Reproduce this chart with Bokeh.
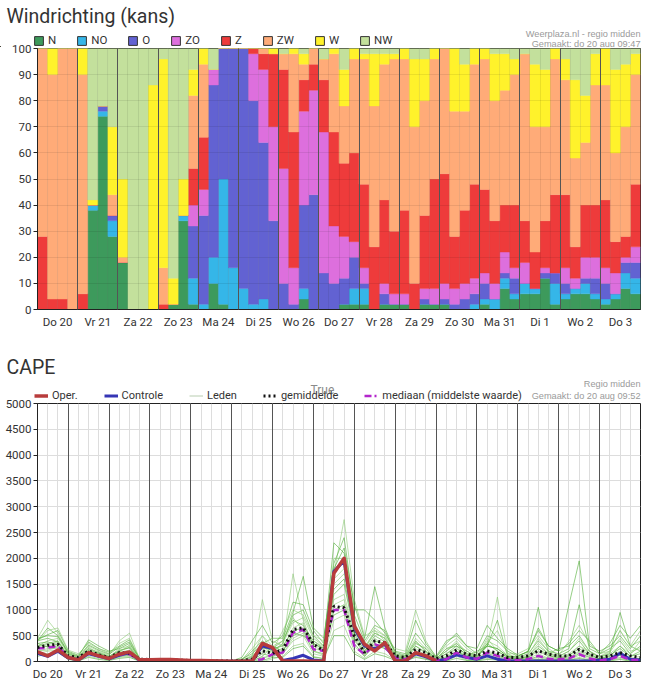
from bokeh.plotting import figure
from bokeh.models import (ColumnDataSource, Range1d, FixedTicker, Grid, Label,
                          Legend, LegendItem)
from bokeh.layouts import column
from bokeh.embed import file_html
from bokeh.resources import INLINE

# ---------------- data ----------------
days = ["Do 20", "Vr 21", "Za 22", "Zo 23", "Ma 24", "Di 25", "Wo 26", "Do 27",
        "Vr 28", "Za 29", "Zo 30", "Ma 31", "Di 1", "Wo 2", "Do 3"]
dirs = ["N", "NO", "O", "ZO", "Z", "ZW", "W", "NW"]
dir_colors = ["#3d9a5c", "#35b6e8", "#6262d2", "#dd6fdd", "#ee3b3b", "#ffab78", "#fff22b", "#c3e09c"]

# 6-hourly probabilities (%) starting Do 20 00:00
N = [0, 0, 0, 0, 0, 38, 74, 28, 18, 0, 0, 0, 0, 2, 34, 2, 0, 10, 2, 0,
     0, 0, 0, 0, 0, 0, 4, 0, 0, 0, 2, 2, 2, 0, 2, 2, 2, 0, 2, 2,
     2, 0, 0, 0, 2, 0, 8, 4, 6, 6, 12, 2, 4, 6, 6, 4, 2, 4, 8, 6]
NO = [0, 0, 0, 0, 0, 2, 2, 6, 0, 0, 0, 0, 0, 0, 2, 10, 2, 10, 48, 16,
      8, 2, 4, 0, 0, 0, 4, 0, 0, 0, 0, 6, 6, 0, 0, 0, 0, 0, 0, 0,
      0, 0, 0, 2, 2, 4, 4, 2, 4, 2, 0, 8, 2, 2, 4, 2, 2, 2, 6, 6]
O = [0, 0, 0, 0, 0, 0, 2, 2, 0, 0, 0, 0, 0, 0, 0, 20, 34, 66, 50, 84,
     92, 78, 60, 34, 10, 2, 32, 44, 14, 10, 10, 12, 2, 0, 4, 0, 0, 0, 2, 0,
     2, 2, 4, 4, 6, 0, 2, 6, 0, 0, 2, 4, 4, 0, 2, 6, 6, 0, 4, 6]
ZO = [0, 0, 0, 0, 0, 0, 0, 0, 0, 0, 0, 0, 0, 0, 0, 8, 10, 6, 0, 0,
      0, 18, 28, 36, 44, 14, 36, 40, 54, 22, 16, 6, 6, 0, 4, 4, 4, 0, 4, 6,
      6, 6, 6, 6, 4, 6, 8, 4, 8, 0, 2, 0, 6, 4, 8, 8, 6, 8, 2, 6]
Z = [28, 4, 4, 0, 6, 0, 0, 0, 0, 0, 0, 0, 2, 0, 0, 14, 20, 0, 0, 0,
     0, 2, 6, 28, 38, 52, 12, 10, 20, 36, 28, 34, 32, 24, 32, 24, 32, 10, 28, 42,
     42, 20, 28, 36, 32, 24, 18, 24, 16, 14, 18, 30, 28, 12, 20, 20, 26, 12, 8, 24]
ZW = [72, 86, 96, 100, 84, 0, 0, 8, 2, 0, 0, 0, 14, 0, 0, 28, 28, 0, 0, 0,
      0, 0, 2, 0, 6, 30, 6, 6, 8, 30, 22, 36, 48, 54, 52, 66, 58, 60, 44, 46,
      48, 48, 38, 46, 50, 46, 44, 50, 64, 48, 36, 52, 44, 34, 24, 46, 44, 34, 42, 42]
W = [0, 10, 0, 0, 10, 2, 0, 26, 30, 0, 0, 86, 80, 10, 14, 10, 6, 0, 0, 0,
     0, 0, 0, 2, 0, 2, 4, 0, 0, 2, 14, 4, 2, 20, 4, 2, 4, 26, 16, 4,
     0, 24, 18, 6, 4, 18, 14, 6, 0, 24, 22, 4, 8, 30, 18, 12, 14, 32, 24, 8]
NW = [0, 0, 0, 0, 0, 58, 22, 30, 50, 100, 100, 14, 4, 88, 50, 8, 0, 8, 0, 0,
      0, 0, 0, 0, 2, 0, 2, 0, 4, 0, 8, 0, 2, 2, 2, 2, 0, 4, 4, 0,
      0, 0, 6, 0, 0, 2, 2, 4, 2, 6, 8, 0, 4, 12, 18, 2, 0, 8, 6, 2]
bar_hours = [3 + 6 * i for i in range(60)]

# CAPE, 6-hourly from Do 20 06:00
cape_hours = [6 + 6 * j for j in range(60)]
oper = [186, 109, 224, 77, 32, 173, 109, 58, 141, 186, 32,
        32, 40, 40, 30, 20, 20, 15, 10, 5, 5, 5, 350,
        270, 13, 10, 10, 5, 5, 1710, 2000,
        686, 333, 205, 365, 13, 10, 173, 109, 13]
controle = [160, 100, 200, 70, 30, 150, 100, 50, 120, 170, 25,
            25, 30, 30, 20, 15, 15, 10, 5, 5, 5, 5, 300,
            250, 20, 60, 120, 30, 10, 1750, 1950,
            650, 300, 250, 330, 20, 10, 150, 90, 10,
            45, 128, 77, 45, 109, 45, 10, 10, 10, 10, 10,
            10, 10, 10, 10, 30, 45, 160, 45, 30]
gemiddelde = [270, 314, 333, 109, 77, 205, 128, 77, 173, 160, 45,
              40, 35, 30, 25, 20, 20, 15, 10, 10, 15, 45, 205,
              160, 224, 620, 654, 333, 205, 1070, 1040,
              494, 173, 400, 365, 109, 77, 237, 173, 58,
              109, 224, 141, 109, 205, 160, 77, 77, 109, 205, 141,
              109, 109, 237, 141, 77, 109, 173, 109, 77]
mediaan = [250, 270, 300, 80, 50, 170, 100, 60, 140, 140, 20,
           15, 10, 10, 10, 10, 5, 5, 5, 5, 5, 20, 45,
           141, 173, 560, 620, 237, 205, 1000, 1000,
           300, 141, 333, 270, 77, 45, 173, 109, 30,
           45, 173, 77, 50, 173, 109, 45, 30, 45, 109, 50,
           45, 60, 141, 60, 20, 45, 109, 30, 30]

m01 = [420, 520, 600, 200, 120, 380, 250, 180, 300, 420, 60, 40, 30, 20, 10, 10, 5, 0, 0, 0, 20, 100, 300,
       200, 350, 900, 1000, 500, 300, 2300, 2100, 900, 400, 700, 600, 150, 100, 400, 200, 60, 200, 350, 150,
       100, 300, 250, 100, 50, 100, 300, 150, 100, 200, 400, 150, 50, 100, 300, 100, 200]
m02 = [450, 800, 550, 150, 60, 300, 200, 120, 400, 550, 40, 60, 50, 30, 20, 10, 10, 5, 0, 0, 0, 50, 1200,
       400, 300, 1700, 800, 300, 200, 1700, 2750, 1200, 500, 600, 500, 100, 50, 300, 150, 40, 150, 250, 100,
       80, 300, 1250, 150, 60, 80, 200, 100, 80, 100, 300, 200, 100, 200, 600, 300, 400]
m03 = [300, 350, 400, 100, 40, 200, 100, 60, 150, 200, 20, 10, 10, 10, 5, 5, 5, 0, 0, 0, 0, 20, 150,
       100, 200, 500, 600, 200, 150, 1000, 1100, 400, 200, 400, 350, 80, 40, 200, 100, 30, 60, 200, 80,
       40, 150, 100, 50, 30, 40, 100, 50, 40, 50, 150, 80, 20, 40, 120, 40, 60]
m04 = [200, 250, 250, 60, 30, 150, 80, 40, 120, 150, 10, 5, 5, 5, 0, 0, 0, 0, 0, 0, 0, 0, 50,
       150, 150, 400, 500, 150, 100, 800, 900, 300, 100, 300, 250, 50, 30, 150, 80, 20, 40, 150, 60,
       30, 100, 80, 30, 20, 30, 80, 30, 30, 40, 120, 50, 10, 30, 80, 20, 30]
m05 = [400, 650, 500, 180, 100, 420, 300, 200, 250, 350, 50, 30, 40, 30, 20, 20, 15, 10, 5, 10, 80, 400, 700,
       350, 500, 1150, 1100, 600, 350, 1900, 2400, 1000, 1000, 800, 550, 200, 150, 800, 350, 100, 400, 500, 300,
       150, 500, 400, 200, 100, 200, 600, 300, 200, 1100, 1950, 300, 200, 300, 500, 250, 500]
m06 = [150, 200, 220, 50, 20, 100, 60, 30, 80, 100, 5, 0, 5, 0, 0, 0, 0, 0, 0, 0, 0, 0, 0,
       50, 100, 300, 350, 100, 50, 600, 700, 200, 60, 200, 150, 30, 20, 100, 50, 10, 20, 100, 30,
       20, 60, 50, 20, 10, 20, 50, 20, 20, 30, 80, 30, 10, 20, 60, 10, 20]
m07 = [400, 450, 380, 120, 70, 250, 180, 100, 200, 280, 30, 20, 20, 15, 10, 10, 5, 5, 0, 0, 30, 200, 400,
       250, 400, 800, 700, 400, 250, 1400, 1600, 600, 250, 550, 450, 120, 80, 350, 250, 50, 250, 300, 200,
       100, 300, 800, 100, 80, 150, 400, 200, 150, 250, 1100, 250, 150, 250, 400, 150, 300]
m08 = [250, 300, 350, 90, 50, 180, 120, 80, 180, 220, 20, 10, 15, 10, 5, 5, 5, 0, 0, 0, 0, 30, 200,
       200, 250, 650, 750, 250, 200, 1200, 1300, 500, 150, 450, 300, 80, 60, 250, 120, 30, 100, 250, 150,
       60, 200, 150, 60, 40, 60, 250, 80, 50, 80, 200, 100, 30, 80, 200, 60, 100]
m09 = [350, 280, 300, 70, 40, 160, 100, 50, 100, 120, 15, 5, 5, 5, 5, 5, 0, 0, 0, 0, 0, 10, 100,
       300, 200, 550, 500, 350, 250, 900, 1000, 350, 100, 350, 250, 60, 40, 150, 100, 20, 80, 200, 100,
       200, 300, 250, 100, 100, 200, 1050, 150, 250, 300, 500, 200, 80, 150, 950, 300, 200]
m10 = [380, 600, 650, 220, 150, 350, 250, 150, 350, 450, 40, 30, 30, 20, 10, 10, 10, 5, 5, 5, 40, 250, 500,
       200, 600, 1000, 900, 500, 400, 2000, 2000, 700, 350, 650, 500, 250, 200, 1000, 400, 80, 300, 450, 250,
       120, 350, 600, 150, 150, 250, 500, 250, 120, 400, 700, 350, 150, 200, 600, 300, 600]
m11 = [100, 150, 180, 40, 10, 80, 40, 20, 60, 80, 5, 0, 0, 0, 0, 0, 0, 0, 0, 0, 0, 0, 20,
       80, 80, 250, 300, 80, 60, 500, 500, 150, 40, 150, 100, 20, 10, 80, 40, 5, 10, 60, 20,
       10, 40, 30, 10, 5, 10, 40, 10, 10, 20, 60, 20, 5, 10, 40, 5, 10]
m12 = [300, 400, 450, 140, 80, 280, 150, 90, 250, 300, 30, 20, 20, 20, 10, 5, 5, 5, 0, 0, 10, 80, 300,
       150, 350, 750, 850, 450, 300, 1600, 1800, 800, 250, 600, 400, 150, 100, 450, 250, 60, 200, 400, 150,
       80, 450, 200, 80, 60, 100, 350, 150, 80, 150, 300, 150, 100, 150, 300, 150, 400]
m13 = [450, 500, 480, 160, 90, 320, 220, 140, 280, 380, 50, 30, 25, 20, 15, 15, 10, 5, 5, 5, 50, 150, 350,
       450, 450, 950, 1650, 650, 450, 1800, 2200, 1100, 450, 1450, 650, 180, 120, 550, 300, 80, 350, 550, 300,
       250, 700, 450, 250, 120, 180, 650, 300, 200, 350, 600, 400, 150, 350, 700, 450, 700]
m14 = [200, 220, 280, 80, 50, 200, 110, 70, 160, 180, 15, 10, 10, 10, 5, 5, 5, 0, 0, 0, 0, 20, 80,
       100, 150, 450, 550, 200, 120, 1100, 1200, 450, 120, 400, 300, 70, 50, 200, 100, 30, 60, 150, 80,
       40, 180, 120, 50, 30, 50, 150, 60, 40, 60, 180, 80, 20, 60, 150, 30, 60]
m15 = [350, 380, 320, 100, 60, 220, 160, 90, 220, 260, 25, 15, 15, 10, 10, 5, 5, 5, 0, 0, 10, 60, 250,
       250, 300, 600, 650, 350, 220, 1300, 1500, 550, 200, 500, 380, 100, 70, 300, 180, 40, 150, 300, 120,
       70, 350, 200, 80, 50, 80, 250, 120, 60, 120, 250, 120, 50, 120, 250, 100, 150]
m16 = [280, 330, 380, 110, 70, 240, 140, 100, 180, 320, 30, 20, 20, 15, 10, 10, 5, 5, 0, 0, 20, 120, 500,
       300, 400, 850, 600, 400, 280, 1500, 1700, 650, 300, 550, 450, 120, 90, 380, 200, 50, 250, 350, 200,
       90, 400, 300, 120, 70, 120, 450, 180, 100, 200, 450, 200, 80, 180, 450, 200, 250]
leden = [m01, m02, m03, m04, m05, m06, m07, m08, m09, m10, m11, m12, m13, m14, m15, m16]

day_centers = [12 + 24 * d for d in range(15)]
day_bounds = [24 * d for d in range(1, 15)]
FONT = "Roboto"
TXT = "#333333"
GRAY = "#9a9a9a"
W_FIG = 652


def style_axes(p, yticks):
    p.xaxis.ticker = FixedTicker(ticks=day_centers)
    p.xaxis.major_label_overrides = {t: d for t, d in zip(day_centers, days)}
    p.xaxis.major_tick_line_color = None
    p.xaxis.major_tick_out = 0
    p.xaxis.major_tick_in = 0
    p.xaxis.minor_tick_line_color = None
    p.xaxis.minor_tick_out = 0
    p.xaxis.major_label_standoff = 5
    p.yaxis.ticker = FixedTicker(ticks=yticks)
    p.yaxis.major_tick_in = 0
    p.yaxis.major_tick_out = 4
    p.yaxis.major_tick_line_color = "#222222"
    p.yaxis.minor_tick_line_color = None
    p.yaxis.major_label_standoff = 2
    for ax in (p.xaxis, p.yaxis):
        ax.axis_line_color = "#222222"
        ax.major_label_text_font = FONT
        ax.major_label_text_font_size = "11.5px"
        ax.major_label_text_color = TXT
    p.xgrid.visible = False
    p.ygrid.visible = False
    p.outline_line_color = "#222222"
    p.outline_line_alpha = 1
    # transparent border so the header above stays visible where they overlap
    p.border_fill_alpha = 0


def header(height):
    h = figure(width=W_FIG, height=height, x_range=Range1d(0, W_FIG), y_range=Range1d(0, height),
               x_axis_location=None, y_axis_location=None, output_backend="svg",
               toolbar_location=None, title=None, min_border=0,
               min_border_left=0, min_border_right=0, min_border_top=0, min_border_bottom=0,
               frame_align=False)
    h.grid.visible = False
    h.outline_line_color = None
    return h


def add_label(p, text, x, y, size, color, align="left", font=FONT):
    p.add_layout(Label(x=x, y=y, text=text, text_font=font, text_font_size=size,
                       text_color=color, text_align=align, text_baseline="middle"))


def make_legend(items, loc, glyph_w, spacing, size):
    return Legend(items=items, location=loc, orientation="horizontal",
                  glyph_width=glyph_w, glyph_height=11, label_standoff=4, spacing=spacing,
                  label_width=0, label_height=11, padding=0, margin=0, border_line_alpha=0,
                  background_fill_alpha=0, label_text_font=FONT,
                  label_text_font_size=size, label_text_color=TXT)


# ---------------- Windrichting header ----------------
h1 = header(47)
items1 = []
for d, c in zip(dirs, dir_colors):
    # legend swatch only: its single bar lies outside the visible range
    r = h1.vbar(x=[-1000], top=[1], width=1, fill_color=c, line_color="#333333", line_width=1)
    items1.append(LegendItem(label=d, renderers=[r]))
h1.add_layout(make_legend(items1, (33, 0), 11, 20, "11.5px"))
add_label(h1, "Windrichting (kans)", 6, 31, "19.5px", TXT)
add_label(h1, "Weerplaza.nl - regio midden", 640, 14, "9.2px", GRAY, "right", "Liberation Sans")
add_label(h1, "Gemaakt: do 20 aug 09:47", 640, 4, "9.2px", GRAY, "right", "Liberation Sans")

# ---------------- Windrichting chart ----------------
p1 = figure(width=W_FIG, height=294, x_range=Range1d(0, 360), y_range=Range1d(0, 100),
            output_backend="svg", toolbar_location=None, title=None,
            min_border_left=37, min_border_right=12, min_border_top=9, min_border_bottom=24,
            margin=(-8, 0, 0, 0))
style_axes(p1, list(range(0, 101, 10)))

src1 = ColumnDataSource(dict(x=bar_hours, N=N, NO=NO, O=O, ZO=ZO, Z=Z, ZW=ZW, W=W, NW=NW))
p1.vbar_stack(dirs, x="x", width=6, color=dir_colors, line_width=0.4, source=src1)

p1.add_layout(Grid(dimension=1, ticker=FixedTicker(ticks=list(range(10, 100, 10))),
                   grid_line_color="#000000", grid_line_alpha=0.08, level="annotation"))
p1.add_layout(Grid(dimension=0, ticker=FixedTicker(ticks=[6 * i for i in range(1, 60)]),
                   grid_line_color="#000000", grid_line_alpha=0.08, level="annotation"))
p1.add_layout(Grid(dimension=0, ticker=FixedTicker(ticks=day_bounds),
                   grid_line_color="#555555", grid_line_alpha=1, level="annotation"))

# ---------------- CAPE header ----------------
h2 = header(69)
off = dict(x=[-1000, -999], y=[0, 0])
r_oper_l = h2.line(line_color="#b83c3c", line_width=3.5, **off)
r_ctrl_l = h2.line(line_color="#3535b5", line_width=3, **off)
r_led_l = h2.line(line_color="#b8cdb0", line_width=1, **off)
r_mean_l = h2.line(line_color="#111111", line_width=3, line_dash="2 3", **off)
r_med_l = h2.line(line_color="#b326cc", line_width=2.5, line_dash="7 3 2 3", **off)
h2.add_layout(make_legend([LegendItem(label="Oper.", renderers=[r_oper_l]),
                           LegendItem(label="Controle", renderers=[r_ctrl_l]),
                           LegendItem(label="Leden", renderers=[r_led_l]),
                           LegendItem(label="gemiddelde", renderers=[r_mean_l]),
                           LegendItem(label="mediaan (middelste waarde)", renderers=[r_med_l])],
                          (34, 0), 14, 26, "11px"))
add_label(h2, "CAPE", 6, 35, "19.5px", TXT)
add_label(h2, "True", 310, 13, "12px", "#8a8a8a")
add_label(h2, "Regio midden", 640, 19, "9.2px", GRAY, "right", "Liberation Sans")
add_label(h2, "Gemaakt: do 20 aug 09:52", 640, 7, "9.2px", GRAY, "right", "Liberation Sans")

# ---------------- CAPE chart ----------------
p2 = figure(width=W_FIG, height=289, x_range=Range1d(6, 360), y_range=Range1d(0, 5000),
            output_backend="svg", toolbar_location=None, title=None,
            min_border_left=37, min_border_right=12, min_border_top=9, min_border_bottom=22,
            margin=(-8, 0, 0, 0))
style_axes(p2, list(range(0, 5001, 500)))

p2.add_layout(Grid(dimension=1, ticker=FixedTicker(ticks=list(range(500, 5000, 500))),
                   grid_line_color="#dddddd", level="underlay"))
p2.add_layout(Grid(dimension=0, ticker=FixedTicker(ticks=[6 * i for i in range(2, 60)]),
                   grid_line_color="#dddddd", level="underlay"))
p2.add_layout(Grid(dimension=0, ticker=FixedTicker(ticks=day_bounds),
                   grid_line_color="#555555", level="underlay"))

member_colors = ["#4fae33", "#8ccc74"] * 8
src_m = ColumnDataSource(dict(xs=[cape_hours] * len(leden), ys=leden, c=member_colors))
p2.multi_line(xs="xs", ys="ys", line_color="c", line_alpha=0.6, line_width=1, source=src_m)

p2.line(cape_hours, controle, line_color="#3535b5", line_width=3, line_join="round")
p2.line(cape_hours, mediaan, line_color="#b326cc", line_width=2.5, line_dash="7 4")
p2.line(cape_hours, gemiddelde, line_color="#111111", line_width=3, line_dash="2 3")
p2.line(cape_hours[:len(oper)], oper, line_color="#b83c3c", line_width=3.5, line_join="round")

layout = column(h1, p1, h2, p2, spacing=0)
open("out.html", "w").write(file_html(layout, INLINE))
